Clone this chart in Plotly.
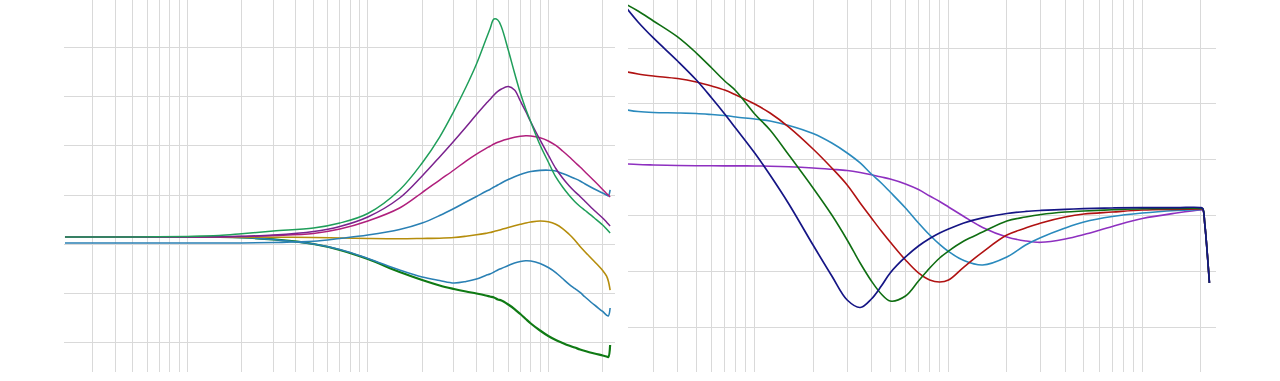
import plotly.graph_objects as go

# ---------------- Left panel: EQ responses (dB vs Hz) ----------------
freq_left = [21, 30, 50, 100, 150, 200, 300, 500, 700, 1000, 1500, 2000, 2500, 3000,
             3500, 4000, 4500, 4750, 5000, 5250, 5500, 6000, 6500, 7000, 7500, 8000,
             9000, 10000, 11000, 12000, 13000, 14000, 15000, 16000, 18000, 20000,
             21000, 21500, 22000]

peak_green = [0, 0, 0, 0.05, 0.15, 0.33, 0.61, 0.91, 1.42, 2.39, 4.78, 7.52, 10.16, 12.80,
              15.24, 17.58, 20.02, 21.14, 22.15, 22.05, 21.34, 19.00, 16.67, 14.63, 13.01, 11.69,
              9.35, 7.62, 6.10, 5.08, 4.27, 3.61, 3.10, 2.69, 1.93, 1.22,
              0.81, 0.61, 0.41]
peak_purple = [0, 0, 0, 0, 0.02, 0.07, 0.20, 0.56, 1.07, 2.03, 3.96, 6.20, 8.13, 9.76,
               11.18, 12.45, 13.52, 13.97, 14.43, 14.79, 15.04, 15.29, 14.94, 13.82, 12.75, 11.69,
               9.86, 8.33, 6.96, 5.99, 5.23, 4.62, 4.12, 3.61, 2.69, 1.93,
               1.52, 1.32, 1.12]
peak_magenta = [0, 0, 0, 0, 0, 0.05, 0.15, 0.36, 0.81, 1.63, 2.95, 4.52, 5.79, 6.81,
                7.72, 8.43, 8.99, 9.22, 9.45, 9.63, 9.76, 9.96, 10.13, 10.23, 10.28, 10.26,
                10.08, 9.76, 9.30, 8.74, 8.18, 7.62, 7.11, 6.61, 5.69, 4.83,
                4.42, 4.27, 4.07]
peak_blue = [-0.61, -0.61, -0.61, -0.61, -0.61, -0.61, -0.56, -0.43, -0.15, 0.20, 0.76, 1.42, 2.18, 2.90,
             3.56, 4.12, 4.62, 4.83, 5.08, 5.28, 5.49, 5.84, 6.12, 6.35, 6.53, 6.65,
             6.77, 6.79, 6.71, 6.45, 6.20, 5.95, 5.69, 5.39, 4.88, 4.47,
             4.27, 4.17, 4.78]
peak_gold = [0, 0, 0, 0, 0, 0, -0.02, -0.05, -0.10, -0.15, -0.18, -0.15, -0.12, -0.05,
             0.08, 0.22, 0.37, 0.45, 0.56, 0.66, 0.77, 0.97, 1.14, 1.29, 1.42, 1.52,
             1.63, 1.55, 1.29, 0.86, 0.30, -0.30, -0.96, -1.52, -2.49, -3.40,
             -3.96, -4.47, -5.39]
dip_blue = [0, 0, 0, 0, 0, -0.05, -0.25, -0.71, -1.27, -2.18, -3.35, -4.07, -4.42, -4.67,
            -4.52, -4.27, -3.91, -3.76, -3.56, -3.35, -3.20, -2.90, -2.64, -2.49, -2.41, -2.44,
            -2.69, -3.10, -3.61, -4.22, -4.78, -5.23, -5.64, -6.10, -6.91, -7.57,
            -7.93, -8.03, -7.22]
dip_green = [0, 0, 0, 0, 0, -0.05, -0.25, -0.71, -1.32, -2.24, -3.56, -4.37, -4.93, -5.28,
             -5.54, -5.74, -5.94, -6.05, -6.15, -6.35, -6.45, -6.86, -7.32, -7.83, -8.33, -8.79,
             -9.50, -10.06, -10.47, -10.77, -11.03, -11.23, -11.43, -11.59, -11.84, -12.04,
             -12.14, -12.20, -10.98]

# ---------------- Right panel: high-pass style responses ----------------
freq_right = [22, 25, 30, 40, 50, 60, 70, 80, 100, 120, 150, 200, 250, 300, 350, 400,
              450, 500, 600, 700, 800, 900, 1000, 1200, 1500, 2000, 2500, 3000, 4000,
              5000, 7000, 10000, 15000, 20000, 20500, 21000, 22200]

hp_navy = [17.80, 16.64, 15.21, 13.15, 11.45, 9.84, 8.41, 7.11, 4.92, 2.95, 0.36, -3.31, -6.08,
           -8.23, -8.90, -8.14, -6.98, -5.81, -4.38, -3.40, -2.73, -2.24, -1.88, -1.34, -0.89,
           -0.49, -0.31, -0.22, -0.12, -0.06, 0.0, 0.03, 0.04, 0.04, -0.04, -1.4, -6.7]
hp_green = [18.16, 17.62, 16.73, 15.30, 13.86, 12.52, 11.36, 10.47, 8.41, 6.98, 4.74, 1.79, -0.63,
            -2.86, -4.92, -6.53, -7.69, -8.32, -7.87, -6.53, -5.37, -4.47, -3.85, -2.95, -2.15,
            -1.16, -0.81, -0.58, -0.36, -0.27, -0.16, -0.07, -0.04, -0.03, -0.06, -1.4, -6.7]
hp_red = [12.16, 11.99, 11.81, 11.58, 11.27, 10.91, 10.55, 10.11, 9.30, 8.50, 7.24, 5.28, 3.58,
          2.06, 0.45, -0.89, -2.06, -3.04, -4.65, -5.81, -6.44, -6.62, -6.44, -5.28, -3.94,
          -2.42, -1.79, -1.34, -0.81, -0.54, -0.36, -0.18, -0.12, -0.09, -0.10, -1.4, -6.7]
hp_teal = [8.77, 8.63, 8.54, 8.50, 8.45, 8.36, 8.27, 8.14, 7.96, 7.78, 7.38, 6.66, 5.81,
           4.92, 4.03, 3.04, 2.24, 1.43, 0.0, -1.34, -2.42, -3.26, -3.89, -4.70, -5.10,
           -4.38, -3.31, -2.64, -1.79, -1.25, -0.76, -0.45, -0.22, -0.12, -0.12, -1.4, -6.7]
hp_violet = [3.94, 3.89, 3.85, 3.80, 3.78, 3.78, 3.77, 3.77, 3.76, 3.74, 3.69, 3.58, 3.46,
             3.35, 3.17, 2.97, 2.77, 2.59, 2.15, 1.65, 1.07, 0.58, 0.09, -0.76, -1.74,
             -2.59, -2.95, -3.07, -2.77, -2.37, -1.65, -0.94, -0.45, -0.18, -0.18, -1.4, -6.7]

left_series = [
    (dip_green, "#0f7a14", 2.2),
    (dip_blue, "#2a80b4", 1.6),
    (peak_gold, "#b58d0c", 1.6),
    (peak_blue, "#2a80b4", 1.6),
    (peak_magenta, "#b01f7c", 1.5),
    (peak_purple, "#7a228e", 1.5),
    (peak_green, "#1f9e5a", 1.5),
]
right_series = [
    (hp_violet, "#8e30c0", 1.6),
    (hp_teal, "#2a8abd", 1.6),
    (hp_red, "#b01212", 1.6),
    (hp_green, "#0f6e12", 1.6),
    (hp_navy, "#151585", 1.7),
]

fig = go.Figure()
for ys, col, w in left_series:
    fig.add_trace(go.Scatter(x=freq_left, y=ys, mode="lines", xaxis="x", yaxis="y",
                             line=dict(color=col, width=w, shape="spline", smoothing=1.0)))
for ys, col, w in right_series:
    fig.add_trace(go.Scatter(x=freq_right, y=ys, mode="lines", xaxis="x2", yaxis="y2",
                             line=dict(color=col, width=w, shape="spline", smoothing=1.0)))

grid = "#d9d9d9"
xcommon = dict(type="log", dtick="D1", showticklabels=False, ticks="", showgrid=True,
               gridcolor=grid, gridwidth=1, zeroline=False, showline=False)
ycommon = dict(showticklabels=False, ticks="", showgrid=True, gridcolor=grid, gridwidth=1,
               zeroline=False, showline=False, dtick=5)

fig.update_layout(
    width=1280, height=381,
    margin=dict(l=0, r=0, t=0, b=9),
    paper_bgcolor="white", plot_bgcolor="white",
    showlegend=False,
    xaxis=dict(domain=[64 / 1280, 615 / 1280], range=[1.3169, 4.3695], anchor="y", **xcommon),
    yaxis=dict(domain=[0, 1], range=[-13.72, 24.085], tick0=-0.742, anchor="x", **ycommon),
    xaxis2=dict(domain=[628 / 1280, 1215.7 / 1280], range=[1.3462, 4.3787], anchor="y2", **xcommon),
    yaxis2=dict(domain=[0, 1], range=[-14.669, 18.605], tick0=-0.689, anchor="x2", **ycommon),
)

fig.write_html("out.html")
